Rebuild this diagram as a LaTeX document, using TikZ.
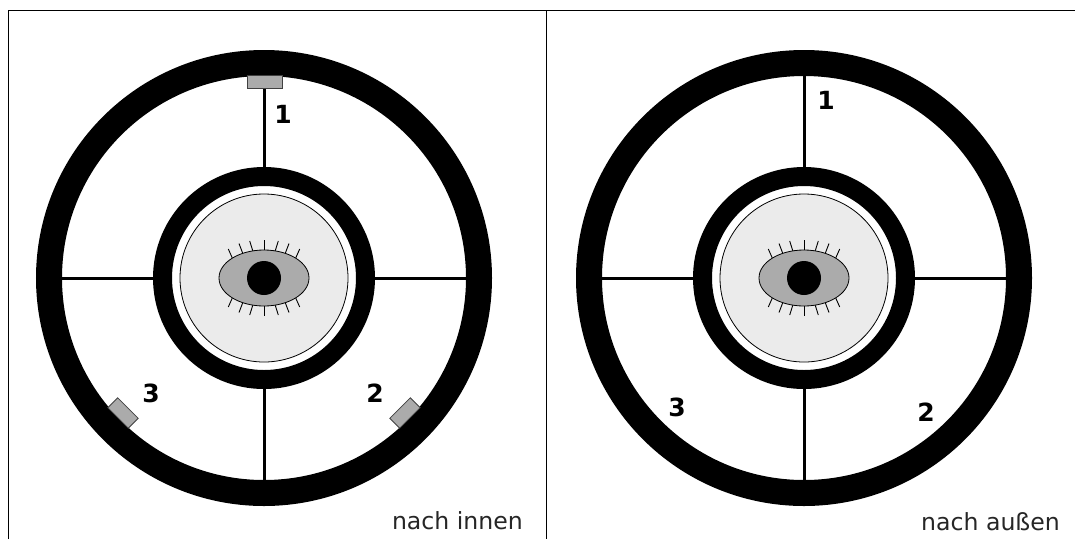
\documentclass[tikz,border=0pt]{standalone}
\usepackage{fontspec}
\setmainfont{DejaVu Sans}
\tikzset{
  ring/.style={draw=black,line width=#1},
  spoke/.style={draw=black,line width=3pt},
  lash/.style={draw=black,line width=0.9pt},
  sensor/.style={draw=black!75,line width=0.8pt,fill=black!33,minimum width=35pt,minimum height=13pt,inner sep=0pt},
  num/.style={font=\bfseries\fontsize{25}{25}\selectfont,text=black,inner sep=0pt},
  captiontext/.style={font=\fontsize{23.6}{24}\selectfont,text=black!85,inner sep=0pt,anchor=base east},
  frameline/.style={draw=black,line width=1.3pt},
  pics/gauge/.style={code={
    \draw[spoke] (0,-215) -- (0,215);
    \draw[spoke] (-215,0) -- (215,0);
    \draw[ring=26pt] (0,0) circle (215);
    \fill[white] (0,0) circle (101);
    \draw[ring=19pt] (0,0) circle (101.5);
    \draw[draw=black,line width=0.8pt,fill=black!8] (0,0) circle (84);
    \foreach \sx/\ex/\sy/\ey in {0/0/28/38, 11/14.3/26.5/37, 21/25/24/34.5, 31.7/35.7/20/29}{
      \draw[lash] (\sx,\sy) -- (\ex,\ey);
      \draw[lash] (-\sx,\sy) -- (-\ex,\ey);
      \draw[lash] (\sx,-\sy) -- (\ex,-\ey);
      \draw[lash] (-\sx,-\sy) -- (-\ex,-\ey);
    }
    \draw[draw=black,line width=0.8pt,fill=black!33] (0,0) ellipse [x radius=45,y radius=28];
    \fill[black] (0,0) circle (17);
  }}
}
\begin{document}
\begin{tikzpicture}[x=1pt,y=-1pt]
\useasboundingbox (0,0) rectangle (1075,539);
\fill[white] (0,0) rectangle (1075,539);
\coordinate (tl) at (8.5,10.5);
\coordinate (bl) at (8.5,539);
\coordinate (tr) at (1075,10.5);
\coordinate (dt) at (546.5,10.5);
\coordinate (db) at (546.5,539);
\draw[frameline] (bl) -- (tl) -- (tr);
\draw[frameline] (dt) -- (db);
\pic at (264,278) {gauge};
\pic at (804,278) {gauge};
\node[sensor] (s1) at (264.5,82) {};
\node[sensor,minimum width=29pt,minimum height=14pt,rotate=-45] (s3) at (123,413) {};
\node[sensor,minimum width=29pt,minimum height=14pt,rotate=45] (s2) at (405,413) {};
\node[num] (l1) at (283,114) {1};
\node[num] (l2) at (375,393) {2};
\node[num] (l3) at (151,393) {3};
\node[num] (r1) at (826,100) {1};
\node[num] (r2) at (926,412) {2};
\node[num] (r3) at (677,407) {3};
\node[captiontext] (c1) at (523,529) {nach innen};
\node[captiontext] (c2) at (1060,530) {nach außen};
\end{tikzpicture}
\end{document}
